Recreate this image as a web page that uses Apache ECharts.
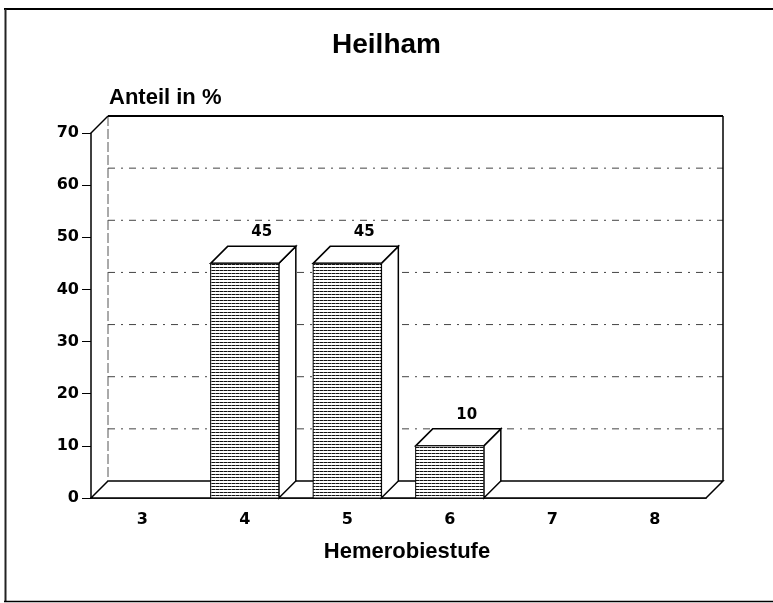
<!DOCTYPE html>
<html>
<head>
<meta charset="utf-8">
<script src="https://cdn.jsdelivr.net/npm/echarts@6/dist/echarts.min.js"></script>
<style>html,body{margin:0;padding:0;background:#fff}#c{width:773px;height:603px}</style>
</head>
<body>
<div id="c"></div>
<script>
const categories = ['3', '4', '5', '6', '7', '8'];
const values = [0, 45, 45, 10, 0, 0];
const yMin = 0, yMax = 70, yStep = 10;
const gridValues = [10, 20, 30, 40, 50, 60];
const titleText = 'Heilham';
const yAxisTitle = 'Anteil in %';
const xAxisTitle = 'Hemerobiestufe';

const DX = 17, DY = -17;
const TXT = '"Liberation Sans", Arial, Helvetica, sans-serif';
const NUM = '"DejaVu Sans", sans-serif';

// dotted fill pattern
const tile = document.createElement('canvas');
tile.width = 4; tile.height = 3;
const tc = tile.getContext('2d');
tc.fillStyle = '#fff'; tc.fillRect(0, 0, 4, 3);
tc.fillStyle = '#111'; tc.fillRect(0, 0, 3, 1);
tc.fillStyle = '#777'; tc.fillRect(3, 0, 1, 1);
const pattern = { image: tile, repeat: 'repeat' };

const chart = echarts.init(document.getElementById('c'), null, { renderer: 'canvas' });

function renderBackdrop(params, api) {
  const cs = params.coordSys;
  const x0 = cs.x, x1 = cs.x + cs.width;
  const yb = api.coord([0, yMin])[1];
  const yt = api.coord([0, yMax])[1];
  const children = [];
  children.push({
    type: 'polygon',
    shape: { points: [[x0, yb], [x1, yb], [x1 + DX, yb + DY], [x0 + DX, yb + DY]] },
    style: { fill: '#fff', stroke: '#000', lineWidth: 1.5 }
  });
  gridValues.forEach(function (v) {
    const y = api.coord([0, v])[1] + DY;
    children.push({
      type: 'line',
      shape: { x1: x0 + DX, y1: y, x2: x1 + DX, y2: y },
      style: { stroke: '#444', lineWidth: 1, lineDash: [7, 6, 2, 6] }
    });
  });
  children.push({
    type: 'line',
    shape: { x1: x0 + DX, y1: yt + DY, x2: x0 + DX, y2: yb + DY },
    style: { stroke: '#555', lineWidth: 1, lineDash: [10, 3] }
  });
  children.push({
    type: 'line',
    shape: { x1: x0 + DX, y1: yt + DY, x2: x1 + DX, y2: yt + DY },
    style: { stroke: '#000', lineWidth: 2 }
  });
  children.push({
    type: 'line',
    shape: { x1: x1 + DX, y1: yt + DY, x2: x1 + DX, y2: yb + DY },
    style: { stroke: '#000', lineWidth: 1.5 }
  });
  children.push({
    type: 'line',
    shape: { x1: x0, y1: yt, x2: x0 + DX, y2: yt + DY },
    style: { stroke: '#000', lineWidth: 1.5 }
  });
  return { type: 'group', children: children };
}

function renderBar(params, api) {
  const idx = api.value(0);
  const v = api.value(1);
  if (!v) return { type: 'group', children: [] };
  const top = api.coord([idx, v]);
  const base = api.coord([idx, yMin]);
  const w = api.size([1, 0])[0] * 0.665;
  const l = top[0] - w / 2, r = top[0] + w / 2;
  const yt = top[1], yb = base[1];
  return {
    type: 'group',
    children: [
      {
        type: 'polygon',
        shape: { points: [[r, yt], [r + DX, yt + DY], [r + DX, yb + DY], [r, yb]] },
        style: { fill: '#fff', stroke: '#000', lineWidth: 1.5 }
      },
      {
        type: 'polygon',
        shape: { points: [[l, yt], [r, yt], [r + DX, yt + DY], [l + DX, yt + DY]] },
        style: { fill: '#fff', stroke: '#000', lineWidth: 1.5 }
      },
      {
        type: 'rect',
        shape: { x: l, y: yt, width: w, height: yb - yt },
        style: { fill: pattern, stroke: '#000', lineWidth: 1 }
      },
      {
        type: 'text',
        style: {
          text: String(v), x: top[0] + DX, y: yt + DY - 14,
          textAlign: 'center', textVerticalAlign: 'middle',
          font: 'bold 15px ' + NUM, fill: '#000'
        }
      }
    ]
  };
}

const option = {
  animation: false,
  backgroundColor: '#fff',
  title: {
    text: titleText, left: 'center', top: 31, padding: 0,
    textStyle: { fontFamily: TXT, fontWeight: 'bold', fontSize: 28, color: '#000' }
  },
  grid: { left: 91, right: 67, top: 133, bottom: 105, containLabel: false },
  xAxis: {
    type: 'category', data: categories,
    axisLine: { lineStyle: { color: '#000', width: 1.5 } },
    axisTick: { alignWithLabel: true, length: 6, lineStyle: { color: '#000' } },
    axisLabel: { margin: 14, color: '#000', fontFamily: NUM, fontWeight: 'bold', fontSize: 16 },
    splitLine: { show: false }
  },
  yAxis: {
    type: 'value', min: yMin, max: yMax, interval: yStep,
    axisLine: { show: true, lineStyle: { color: '#000', width: 1.5 } },
    axisTick: { show: true, length: 9, lineStyle: { color: '#000' } },
    axisLabel: { margin: 12, color: '#000', fontFamily: NUM, fontWeight: 'bold', fontSize: 16 },
    splitLine: { show: false }
  },
  graphic: [
    { type: 'line', shape: { x1: 4, y1: 9, x2: 773, y2: 9 }, style: { stroke: '#000', lineWidth: 2 } },
    { type: 'line', shape: { x1: 5.5, y1: 9, x2: 5.5, y2: 602 }, style: { stroke: '#222', lineWidth: 2 } },
    { type: 'line', shape: { x1: 4, y1: 601.5, x2: 773, y2: 601.5 }, style: { stroke: '#000', lineWidth: 1.5 } },
    { type: 'text', style: { text: yAxisTitle, x: 109, y: 98, textAlign: 'left', textVerticalAlign: 'middle', font: 'bold 22px ' + TXT, fill: '#000' } },
    { type: 'text', style: { text: xAxisTitle, x: 407, y: 552, textAlign: 'center', textVerticalAlign: 'middle', font: 'bold 22px ' + TXT, fill: '#000' } }
  ],
  series: [
    {
      type: 'custom', name: 'backdrop', z: 1, silent: true,
      renderItem: renderBackdrop,
      data: [[0, 0]]
    },
    {
      type: 'custom', name: 'Anteil', z: 5,
      renderItem: renderBar,
      data: values.map(function (v, i) { return [i, v]; })
    }
  ]
};
chart.setOption(option);
</script>
</body>
</html>
